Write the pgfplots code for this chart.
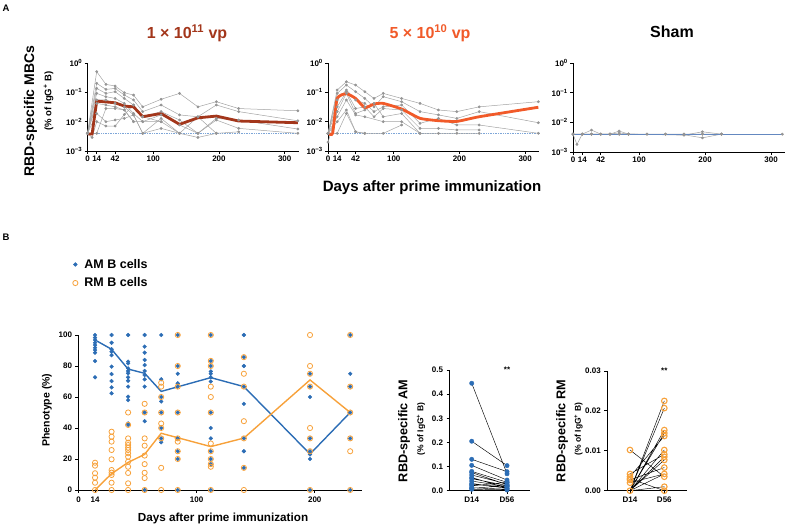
\documentclass[border=0pt]{standalone}
\usepackage{fontspec}
\setmainfont{Liberation Sans}
\usepackage{pgfplots}
\pgfplotsset{compat=1.18}
\definecolor{gr}{HTML}{A3A3A3}
\definecolor{grm}{HTML}{959595}
\definecolor{darkred}{HTML}{A3361B}
\definecolor{orred}{HTML}{F15A29}
\definecolor{amblue}{HTML}{2C6DB5}
\definecolor{rmorange}{HTML}{F7A13A}
\definecolor{dotblue}{HTML}{7EA6D8}
\definecolor{shamblue}{HTML}{6488C0}
\pgfplotsset{
  myBase/.style={scale only axis, anchor=south west, clip=false,
    axis x line*=bottom, axis y line*=left,
    axis line style={line width=0.9pt,-},
    tick style={line width=0.8pt, black}, tick align=outside, major tick length=3pt,
    tick label style={font=\bfseries\fontsize{8}{9}\selectfont},
    /pgf/number format/assume math mode=true},
  myPanA/.style={myBase, width=211pt, height=88pt, xmin=0, xmax=321,
    ymin=1e-3, ymax=1, xtick={0,14,42,100,200,300},
    ytick={1e-3,1e-2,1e-1,1}, yminorticks=false,
    yticklabels={10\textsuperscript{−3},10\textsuperscript{−2},10\textsuperscript{−1},10\textsuperscript{0}},
    xticklabel style={inner sep=1.5pt}, yticklabel style={inner sep=2pt}},
  myGray/.style={gr, line width=0.5pt, mark=*, mark size=1.15pt, mark options={fill=grm, draw=grm}},
}
\begin{document}
\begin{tikzpicture}
\useasboundingbox (0,0) rectangle (787pt,527pt);
% ---------------- Panel A ----------------
\node[font=\bfseries\fontsize{9.5}{10}\selectfont] at (6pt,519pt) {A};
\node[font=\bfseries\fontsize{16}{19}\selectfont, text=darkred] at (187pt,494pt) {1 × 10\textsuperscript{11} vp};
\node[font=\bfseries\fontsize{16}{19}\selectfont, text=orred] at (430pt,494pt) {5 × 10\textsuperscript{10} vp};
\node[font=\bfseries\fontsize{16}{19}\selectfont] at (672pt,495pt) {Sham};
\node[rotate=90, font=\bfseries\fontsize{14}{16}\selectfont] at (30.5pt,416pt) {RBD-specific MBCs};
\node[rotate=90, font=\bfseries\fontsize{9.5}{11}\selectfont] at (48.5pt,426pt) {(\% of IgG\textsuperscript{+} B)};
\node[font=\bfseries\fontsize{15}{18}\selectfont] at (432pt,339pt) {Days after prime immunization};

\begin{axis}[ymode=log, myPanA, at={(87.5pt,376pt)}]
\addplot[dotblue, densely dotted, line width=0.7pt] coordinates {(0,0.004)(321,0.004)};
\addplot[myGray] coordinates {(0,0.004)(14,0.506)(28,0.187)(42,0.164)(56,0.097)(70,0.081)(84,0.032)(112,0.058)(140,0.092)(168,0.032)(196,0.048)(230,0.028)(320,0.0235)};
\addplot[myGray] coordinates {(0,0.004)(14,0.203)(28,0.126)(42,0.136)(56,0.081)(70,0.055)(84,0.022)(112,0.037)(140,0.017)(168,0.0147)(196,0.037)(230,0.022)(320,0.0107)};
\addplot[myGray] coordinates {(0,0.004)(14,0.136)(28,0.092)(42,0.105)(56,0.062)(70,0.037)(84,0.0147)(112,0.022)(140,0.0114)(168,0.004)(196,0.0129)(230,0.0114)(320,0.0056)};
\addplot[myGray] coordinates {(0,0.004)(14,0.092)(28,0.071)(42,0.062)(56,0.042)(70,0.019)(84,0.0100)(112,0.017)(140,0.0077)(168,0.004)(196,0.0114)(230,0.0059)(320,0.004)};
\addplot[myGray] coordinates {(0,0.004)(14,0.055)(28,0.055)(42,0.042)(56,0.032)(70,0.017)(84,0.004)(112,0.0129)(140,0.004)(168,0.0029)(196,0.004)(230,0.0045)};
\addplot[myGray] coordinates {(0,0.004)(14,0.042)(28,0.037)(42,0.032)(56,0.025)(70,0.0100)(84,0.0100)(112,0.0100)(140,0.004)(168,0.0147)(196,0.004)};
\addplot[myGray] coordinates {(0,0.004)(14,0.019)(28,0.0100)(42,0.0114)(56,0.0129)(70,0.017)(84,0.004)(112,0.0059)(140,0.004)};
\addplot[myGray] coordinates {(0,0.004)(7,0.0029)(14,0.0100)(28,0.0071)(42,0.0071)(56,0.0175)(70,0.037)(84,0.0147)(112,0.0100)};
\addplot[myGray] coordinates {(0,0.004)(14,0.004)(28,0.028)(42,0.028)(56,0.025)(70,0.0100)};
\addplot[darkred, line width=2.8pt] coordinates {(0,0.0038)(7,0.0038)(14,0.050)(28,0.047)(42,0.044)(56,0.034)(70,0.032)(84,0.0148)(112,0.019)(140,0.0081)(168,0.0135)(196,0.0155)(230,0.0105)(320,0.0092)};
\end{axis}

\begin{axis}[ymode=log, myPanA, at={(328pt,376pt)}]
\addplot[dotblue, densely dotted, line width=0.7pt] coordinates {(0,0.004)(321,0.004)};
\addplot[myGray] coordinates {(0,0.004)(14,0.12)(28,0.23)(42,0.177)(56,0.105)(70,0.062)(84,0.092)(112,0.062)(140,0.042)(168,0.025)(196,0.022)(230,0.032)(320,0.048)};
\addplot[myGray] coordinates {(0,0.004)(14,0.092)(28,0.177)(42,0.105)(56,0.062)(70,0.032)(84,0.071)(112,0.048)(140,0.022)(168,0.017)(196,0.0129)(230,0.022)(320,0.0092)};
\addplot[myGray] coordinates {(0,0.004)(14,0.055)(28,0.12)(42,0.055)(56,0.042)(70,0.022)(84,0.032)(112,0.037)(140,0.0088)(168,0.0129)(196,0.0077)(230,0.0077)(320,0.004)};
\addplot[myGray] coordinates {(0,0.004)(14,0.032)(28,0.105)(42,0.028)(56,0.032)(70,0.0147)(84,0.028)(112,0.025)(140,0.0059)(168,0.0059)(196,0.0052)(230,0.0052)};
\addplot[myGray] coordinates {(0,0.002)(14,0.022)(28,0.092)(42,0.019)(56,0.025)(70,0.042)(84,0.0147)(112,0.019)(140,0.004)(168,0.004)(196,0.004)(230,0.004)};
\addplot[myGray] coordinates {(0,0.004)(14,0.0147)(28,0.055)(42,0.017)(56,0.0147)(84,0.0100)(112,0.0100)(140,0.004)};
\addplot[myGray] coordinates {(0,0.004)(14,0.0100)(28,0.025)(42,0.0045)(56,0.004)(84,0.004)(112,0.0077)};
\addplot[myGray] coordinates {(0,0.004)(14,0.004)(28,0.019)(42,0.0045)(56,0.004)};
\addplot[orred, line width=2.8pt, smooth, tension=0.3] coordinates {(0,0.004)(7,0.004)(14,0.062)(28,0.09)(42,0.062)(56,0.030)(70,0.040)(84,0.042)(112,0.027)(140,0.013)(168,0.0108)(196,0.0102)(230,0.0147)(320,0.031)};
\end{axis}

\begin{axis}[ymode=log, myPanA, at={(573pt,375pt)}, width=212pt, height=89pt]
\addplot[myGray] coordinates {(0,0.004)(6,0.0018)(14,0.004)(28,0.004)(42,0.004)(56,0.004)(70,0.004)(84,0.004)(112,0.004)(140,0.004)(168,0.004)(196,0.004)(225,0.004)};
\addplot[myGray] coordinates {(0,0.004)(14,0.004)(28,0.0055)(42,0.004)(56,0.004)(70,0.0051)(84,0.004)(168,0.0037)(196,0.0048)(225,0.004)};
\addplot[myGray] coordinates {(0,0.004)(14,0.004)(28,0.004)(56,0.004)(70,0.0044)(84,0.004)(168,0.0038)(196,0.0030)(225,0.004)};
\addplot[myGray] coordinates {(0,0.004)(14,0.004)(28,0.004)(42,0.004)(56,0.004)(70,0.004)(84,0.004)(112,0.004)(140,0.004)(168,0.004)(196,0.004)(225,0.004)(317,0.004)};
\addplot[shamblue, line width=0.8pt] coordinates {(0,0.004)(317,0.004)};
\end{axis}

% ---------------- Panel B ----------------
\node[font=\bfseries\fontsize{9.5}{10}\selectfont] at (6pt,290pt) {B};
\node[rotate=90, font=\bfseries\fontsize{10.5}{12}\selectfont] at (47pt,117pt) {Phenotype (\%)};
\node[font=\bfseries\fontsize{11.7}{14}\selectfont] at (223pt,9pt) {Days after prime immunization};

\begin{axis}[myBase, at={(78.5pt,37pt)}, width=283.5pt, height=155pt,
  xmin=0, xmax=240, ymin=0, ymax=100, xtick={0,14,100,200}, ytick={0,20,...,100},
  legend style={draw=none, fill=none, at={(rel axis cs:-0.021,1.50)}, anchor=north west,
    inner sep=0pt, nodes={inner sep=1.5pt}, row sep=5pt,
    /tikz/every odd column/.append style={column sep=5pt},
    font=\bfseries\fontsize{12.5}{14}\selectfont},
  legend cell align=left]
\addplot[only marks, mark=*, mark size=1.9pt, color=amblue] coordinates {
(14,100)(14,98.3)(14,96.8)(14,95)(14,93.5)(14,91.8)(14,90.3)(14,88.6)(14,83.2)(14,72.7)
(28,100)(28,95)(28,90.8)(28,89.2)(28,87)(28,79.6)(28,74.8)(28,70.3)(28,66.2)(28,62.4)
(42,100)(42,82.8)(42,81.7)(42,78.5)(42,76.8)(42,75.3)(42,72.7)(42,70.5)(42,66.7)(42,60.2)(42,58)(42,43)(42,42)
(56,100)(56,92.5)(56,88.6)(56,83.9)(56,80.6)(56,76.8)(56,74.2)(56,71.4)(56,66.7)(56,50)(56,44.4)(56,0)
(70,100)(70,71.4)(70,60)(70,57.1)(70,50)(70,40)(70,33.3)(70,30.8)
(84,100)(84,80)(84,75)(84,68.8)(84,66.7)(84,50)(84,33.3)(84,25)(84,20)(84,0)
(112,100)(112,83.3)(112,80)(112,76.5)(112,75)(112,72.7)(112,70)(112,50)(112,40)(112,33.3)(112,25)(112,20)(112,16.7)(112,0)
(140,100)(140,85.7)(140,80)(140,66.7)(140,55.6)(140,33.3)(140,25)(140,14.3)
(196,75)(196,66.7)(196,60)(196,33.3)(196,25)(196,23)(196,20)(196,0)
(230,100)(230,75)(230,66.7)(230,50)(230,33.3)(230,0)
};
\addplot[only marks, mark=o, mark size=2.6pt, color=rmorange, mark options={line width=0.8pt, fill=none}] coordinates {
(14,17.6)(14,15.7)(14,10.8)(14,8)(14,4.7)(14,0)
(28,37.6)(28,34.4)(28,31.2)(28,25.8)(28,19.8)(28,12.9)(28,11.2)(28,9.7)(28,4.7)(28,0)
(42,50)(42,42)(42,33.3)(42,30.5)(42,29)(42,27.3)(42,25.8)(42,23.7)(42,21.5)(42,18.3)(42,15)(42,11)(42,4.3)(42,0)
(56,55.6)(56,50)(56,33.3)(56,28.6)(56,22.2)(56,16.7)(56,11.1)(56,7.7)(56,0)
(70,69.2)(70,66.7)(70,60)(70,50)(70,42.9)(70,40)(70,33.3)(70,14.3)(70,0)
(84,100)(84,80)(84,66.7)(84,50)(84,33.3)(84,31.2)(84,25)(84,20)(84,0)
(112,100)(112,83.3)(112,80)(112,66.7)(112,60)(112,50)(112,30)(112,25)(112,20)(112,16.7)(112,15)(112,0)
(140,85.7)(140,75)(140,66.7)(140,44.4)(140,33.3)(140,14.3)(140,0)
(196,100)(196,80)(196,75)(196,66.7)(196,40)(196,33.3)(196,25)(196,0)
(230,100)(230,66.7)(230,50)(230,33.3)(230,25)(230,0)
};
\addplot[amblue, line width=1.4pt, forget plot] coordinates {(14,96.8)(28,90.8)(42,78)(56,75.3)(70,63.6)(112,72.5)(140,66.7)(196,23.2)(230,50)};
\addplot[rmorange, line width=1.4pt, forget plot] coordinates {(14,0)(28,10.5)(42,17.8)(56,23)(70,36.6)(112,28)(140,33.5)(196,71)(230,50)};
\legend{AM B cells, RM B cells}
\end{axis}

% AM panel
\node[rotate=90, font=\bfseries\fontsize{12.7}{14}\selectfont] at (404pt,96pt) {RBD-specific AM};
\node[rotate=90, font=\bfseries\fontsize{8.5}{10}\selectfont] at (421pt,98pt) {(\% of IgG\textsuperscript{+} B)};
\begin{axis}[myBase, at={(449.5pt,36.3pt)}, width=80.5pt, height=120.7pt,
  xmin=0.371, xmax=2.65, ymin=0, ymax=0.5, xtick={1,2}, xticklabels={D14,D56},
  ytick={0,0.1,0.2,0.3,0.4,0.5}, scaled y ticks=false,
  yticklabel style={/pgf/number format/fixed, /pgf/number format/fixed zerofill, /pgf/number format/precision=1}]
\addplot[black, line width=0.45pt, unbounded coords=jump] coordinates {
(1,0.445)(2,0.07)(1,nan)(1,0.205)(2,0.104)(1,nan)(1,0.13)(2,0.079)(1,nan)(1,0.105)(2,0.044)(1,nan)
(1,0.08)(2,0.035)(1,nan)(1,0.065)(2,0.028)(1,nan)(1,0.05)(2,0.021)(1,nan)(1,0.04)(2,0.017)(1,nan)
(1,0.03)(2,0.01)(1,nan)(1,0.02)(2,0.035)(1,nan)(1,0.012)(2,0.006)(1,nan)(1,0.006)(2,0.003)(1,nan)
(1,0.01)(2,0.021)(1,nan)(1,0.075)(2,0.025)(1,nan)(1,0.055)(2,0.01)(1,nan)(1,0.025)(2,0.017)};
\addplot[only marks, mark=*, mark size=2.2pt, color=amblue] coordinates {
(1,0.445)(1,0.205)(1,0.13)(1,0.105)(1,0.08)(1,0.065)(1,0.05)(1,0.04)(1,0.03)(1,0.02)(1,0.012)(1,0.006)(1,0.01)(1,0.075)(1,0.055)(1,0.025)
(2,0.07)(2,0.104)(2,0.079)(2,0.044)(2,0.035)(2,0.028)(2,0.021)(2,0.017)(2,0.01)(2,0.035)(2,0.006)(2,0.003)(2,0.021)(2,0.025)(2,0.01)(2,0.017)};
\node[font=\bfseries\fontsize{8}{9}\selectfont] at (axis cs:2,0.5) {**};
\end{axis}

% RM panel
\node[rotate=90, font=\bfseries\fontsize{12.7}{14}\selectfont] at (562pt,96pt) {RBD-specific RM};
\node[rotate=90, font=\bfseries\fontsize{8.5}{10}\selectfont] at (578.5pt,98pt) {(\% of IgG\textsuperscript{+} B)};
\begin{axis}[myBase, at={(607.3pt,36.3pt)}, width=79.4pt, height=119.7pt,
  xmin=0.338, xmax=2.653, ymin=0, ymax=0.03, xtick={1,2}, xticklabels={D14,D56},
  ytick={0,0.01,0.02,0.03}, scaled y ticks=false,
  yticklabel style={/pgf/number format/fixed, /pgf/number format/fixed zerofill, /pgf/number format/precision=2}]
\addplot[black, line width=0.45pt, unbounded coords=jump] coordinates {
(1,0.0102)(2,0.0035)(1,nan)(1,0.0042)(2,0.0091)(1,nan)(1,0.0035)(2,0.0137)(1,nan)(1,0.0027)(2,0.0058)(1,nan)
(1,0.002)(2,0.0042)(1,nan)(1,0)(2,0.0225)(1,nan)(1,0)(2,0.0207)(1,nan)(1,0)(2,0.0152)(1,nan)
(1,0)(2,0.0144)(1,nan)(1,0)(2,0.0102)(1,nan)(1,0)(2,0.0085)(1,nan)(1,0)(2,0.0077)(1,nan)
(1,0)(2,0.001)(1,nan)(1,0)(2,0)(1,nan)(1,0.003)(2,0)(1,nan)(1,0)(2,0.0042)};
\addplot[only marks, mark=o, mark size=2.8pt, color=rmorange, mark options={line width=1.1pt, fill=none}] coordinates {
(1,0.0102)(1,0.0042)(1,0.0035)(1,0.0027)(1,0.002)(1,0)(1,0.003)
(2,0.0035)(2,0.0091)(2,0.0137)(2,0.0058)(2,0.0042)(2,0.0225)(2,0.0207)(2,0.0152)(2,0.0144)(2,0.0102)(2,0.0085)(2,0.0077)(2,0.001)(2,0)};
\node[font=\bfseries\fontsize{8}{9}\selectfont] at (axis cs:2,0.03) {**};
\end{axis}
\end{tikzpicture}
\end{document}
